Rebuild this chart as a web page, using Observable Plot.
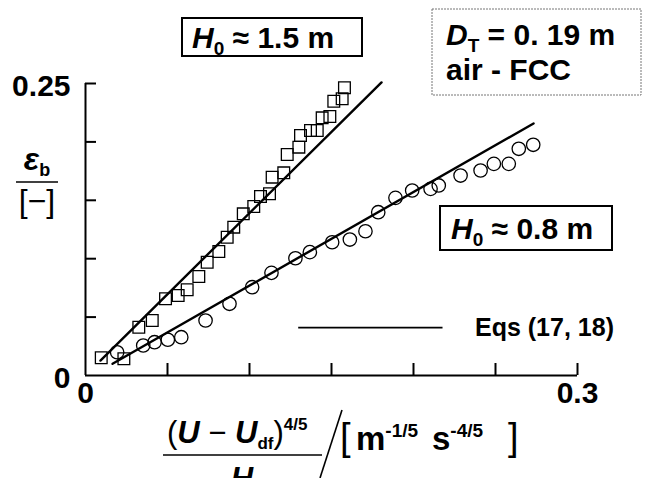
<!DOCTYPE html>
<html><head><meta charset="utf-8">
<script src="https://cdn.jsdelivr.net/npm/d3@7"></script>
<script src="https://cdn.jsdelivr.net/npm/@observablehq/plot@0.6"></script>
<style>
body{margin:0;background:#fff;}
#wrap{position:relative;width:655px;height:478px;overflow:hidden;}
svg text{font-family:"Liberation Sans",Arial,sans-serif;}
</style></head><body><div id="wrap"></div>
<script>
// H0 ≈ 1.5 m (squares)
const squareX = [0.0096,0.0234,0.0325,0.0407,0.0488,0.0565,0.0620,0.0691,0.0742,0.0813,0.0864,0.0904,0.0962,0.1026,0.1067,0.1122,0.1138,0.1209,0.1230,0.1301,0.1311,0.1372,0.1413,0.1443,0.1490,0.1514,0.1565,0.1579];
const squareY = [0.0152,0.0143,0.0413,0.0471,0.0657,0.0685,0.0734,0.0848,0.0970,0.1062,0.1184,0.1270,0.1384,0.1447,0.1533,0.1556,0.1698,0.1735,0.1892,0.1955,0.2055,0.2098,0.2098,0.2206,0.2217,0.2348,0.2369,0.2463];
// H0 ≈ 0.8 m (circles)
const circleX = [0.0193,0.0352,0.0421,0.0502,0.0584,0.0732,0.0878,0.1016,0.1134,0.1280,0.1368,0.1504,0.1612,0.1707,0.1785,0.1890,0.1992,0.2104,0.2154,0.2287,0.2409,0.2490,0.2581,0.2642,0.2730];
const circleY = [0.0199,0.0257,0.0285,0.0306,0.0328,0.0471,0.0614,0.0756,0.0879,0.1004,0.1056,0.1141,0.1164,0.1235,0.1398,0.1521,0.1584,0.1598,0.1627,0.1712,0.1755,0.1812,0.1812,0.1941,0.1975];
// Eqs (17, 18) lines
const fitHighX = [0.0091, 0.1805];
const fitHighY = [0.0128, 0.2509];
const fitLowX = [0.0165, 0.2732];
const fitLowY = [0.0100, 0.2158];
// axes
const xTicks = [0.05, 0.10, 0.15, 0.20, 0.25, 0.30];
const yTicks = [0.05, 0.10, 0.15, 0.20, 0.25];
const xTickLabels = [0, 0.3];
const yTickLabels = [0, 0.25];
const legendX = [0.13, 0.218];
const legendY = 0.041;

const squares = squareX.map((x, i) => ({x, y: squareY[i]}));
const circles = circleX.map((x, i) => ({x, y: circleY[i]}));
const fitHigh = fitHighX.map((x, i) => ({x, y: fitHighY[i]}));
const fitLow = fitLowX.map((x, i) => ({x, y: fitLowY[i]}));

const W = 655, H = 478, mL = 85, mR = 78, mT = 83, mB = 103;
const fnt = "Liberation Sans, Arial, sans-serif";

const plot = Plot.plot({
  width: W, height: H,
  marginLeft: mL, marginRight: mR, marginTop: mT, marginBottom: mB,
  style: {background: "#fff", fontFamily: fnt, color: "#000", overflow: "visible"},
  x: {domain: [0, 0.3], axis: null},
  y: {domain: [0, 0.25], axis: null},
  marks: [
    Plot.ruleY([0], {stroke: "#000", strokeWidth: 2}),
    Plot.ruleX([0], {stroke: "#000", strokeWidth: 2}),
    Plot.tickY(yTicks, {y: d => d, stroke: "#000", strokeWidth: 2, insetRight: (W - mL - mR) - 11}),
    Plot.tickX(xTicks, {x: d => d, stroke: "#000", strokeWidth: 2, insetTop: (H - mT - mB) - 12}),
    Plot.text(yTickLabels, {y: d => d, text: d => String(d), frameAnchor: "left", dx: -15, dy: 3, textAnchor: "end", fontSize: 30, fontWeight: "bold", fill: "#000"}),
    Plot.text(xTickLabels, {x: d => d, text: d => String(d), frameAnchor: "bottom", dy: 27, fontSize: 30, fontWeight: "bold", fill: "#000"}),
    Plot.dot(squares, {x: "x", y: "y", symbol: "square", r: 6.6, stroke: "#000", strokeWidth: 1.3, fill: "none"}),
    Plot.dot(circles, {x: "x", y: "y", symbol: "circle", r: 6.7, stroke: "#000", strokeWidth: 1.3, fill: "none"}),
    Plot.line(fitHigh, {x: "x", y: "y", stroke: "#000", strokeWidth: 2.4}),
    Plot.line(fitLow, {x: "x", y: "y", stroke: "#000", strokeWidth: 2.4}),
    Plot.ruleY([legendY], {x1: legendX[0], x2: legendX[1], stroke: "#000", strokeWidth: 1.8}),
    Plot.text(["Eqs (17, 18)"], {x: 0.2375, y: legendY, text: d => d, textAnchor: "start", fontSize: 25, fontWeight: "bold", fill: "#000"})
  ]
});
document.getElementById("wrap").appendChild(plot);

const svg = d3.select(plot);
const g = svg.append("g").attr("font-family", fnt).attr("fill", "#000");

function addText(parent, x, y, parts, opts = {}) {
  const t = parent.append("text").attr("x", x).attr("y", y)
    .attr("font-size", opts.size || 30).attr("font-weight", opts.weight || "bold")
    .attr("text-anchor", opts.anchor || "start");
  for (const p of parts) {
    const s = t.append("tspan").text(p.t);
    if (p.i) s.attr("font-style", "italic");
    if (p.s) s.attr("font-size", p.s);
    if (p.dy) s.attr("dy", p.dy);
    if (p.w) s.attr("font-weight", p.w);
    if (p.x != null) s.attr("x", p.x);
  }
  return t;
}

// H0 ≈ 1.5 m box
g.append("rect").attr("x", 182).attr("y", 18).attr("width", 180).attr("height", 38)
  .attr("fill", "#fff").attr("stroke", "#000").attr("stroke-width", 2);
addText(g, 192, 48, [{t: "H", i: 1}, {t: "0", s: 19, dy: 7}, {t: " ≈ 1.5 m", dy: -7}]);

// D_T box
g.append("rect").attr("x", 432).attr("y", 9).attr("width", 209).attr("height", 86)
  .attr("fill", "#fff").attr("stroke", "#777").attr("stroke-width", 1).attr("stroke-dasharray", "2,1");
addText(g, 446, 45, [{t: "D", i: 1}, {t: "T", s: 19, dy: 7}, {t: " = 0. 19 m", dy: -7}]);
addText(g, 446, 80, [{t: "air - FCC"}]);

// H0 ≈ 0.8 m box
g.append("rect").attr("x", 440).attr("y", 206).attr("width", 172).attr("height", 44)
  .attr("fill", "#fff").attr("stroke", "#000").attr("stroke-width", 2);
addText(g, 451, 239, [{t: "H", i: 1}, {t: "0", s: 19, dy: 7}, {t: " ≈ 0.8 m", dy: -7}]);

// y label
addText(g, 37, 170, [{t: "ε", i: 1}, {t: "b", s: 18, dy: 6}], {anchor: "middle", size: 32});
g.append("line").attr("x1", 16).attr("x2", 58).attr("y1", 182).attr("y2", 182).attr("stroke", "#000").attr("stroke-width", 1.6);
addText(g, 37, 212, [{t: "[−]"}], {anchor: "middle", size: 32, weight: "normal"});

// x label
addText(g, 167, 443, [{t: "(", w: "normal"}, {t: "U", i: 1}, {t: " − ", w: "normal"}, {t: "U", i: 1}, {t: "df", s: 17, dy: 6}, {t: ")", dy: -6, w: "normal"}, {t: "4/5", s: 17, dy: -13}], {size: 31});
g.append("line").attr("x1", 163).attr("x2", 322).attr("y1", 455).attr("y2", 455).attr("stroke", "#000").attr("stroke-width", 1.6);
addText(g, 242, 489, [{t: "H", i: 1}], {anchor: "middle", size: 31});
g.append("line").attr("x1", 342).attr("x2", 320).attr("y1", 410).attr("y2", 478).attr("stroke", "#000").attr("stroke-width", 1.6);
addText(g, 340, 450, [
  {t: "[", w: "normal", s: 38},
  {t: "m", x: 356},
  {t: "-1/5", s: 19, dy: -13},
  {t: "s", x: 432, dy: 13},
  {t: "-4/5", s: 19, dy: -13},
  {t: "]", x: 508, dy: 13, w: "normal", s: 38}
], {size: 33});
</script>
</body></html>
